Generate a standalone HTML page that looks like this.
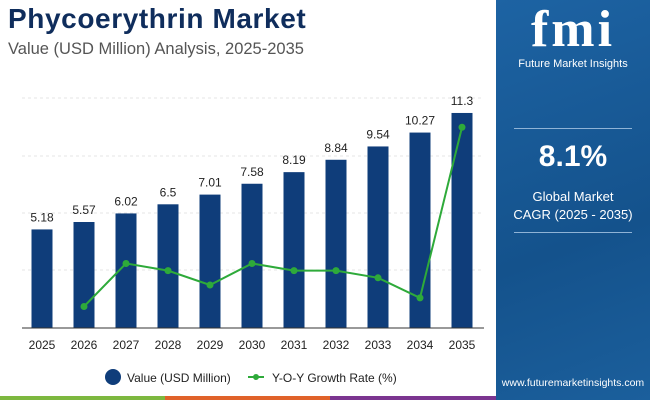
<!DOCTYPE html>
<html><head><meta charset="utf-8"><style>
body{margin:0;width:650px;height:400px;overflow:hidden;background:#fff;font-family:"Liberation Sans",sans-serif;position:relative}
.t{position:absolute}
</style></head><body>
<div class="t" style="left:8px;top:3px;font-size:28px;font-weight:bold;color:#0f2d5c;letter-spacing:0.6px">Phycoerythrin Market</div>
<div class="t" style="left:8px;top:40px;font-size:16.5px;color:#555">Value (USD Million) Analysis, 2025-2035</div>
<div class="t" style="left:496px;top:0;width:154px;height:400px;background:linear-gradient(160deg,#1d63a3,#14528c 60%,#1b5f9c)">
  <div style="position:absolute;left:0;top:0px;width:154px;text-align:center;color:#fff;font-size:52px;font-weight:bold;font-family:'Liberation Serif',serif;letter-spacing:3px">fmi</div>
  <div style="position:absolute;left:0;top:58px;width:154px;text-align:center;color:#fff;font-size:11px">Future Market Insights</div>
  <div style="position:absolute;left:18px;top:128px;width:118px;border-top:1px solid #8fb3d6"></div>
  <div style="position:absolute;left:0;top:140px;width:154px;text-align:center;color:#fff;font-size:30px;font-weight:bold">8.1%</div>
  <div style="position:absolute;left:0;top:188px;width:154px;text-align:center;color:#fff;font-size:13px;line-height:18px">Global Market<br>CAGR (2025 - 2035)</div>
  <div style="position:absolute;left:18px;top:232px;width:118px;border-top:1px solid #8fb3d6"></div>
  <div style="position:absolute;left:0;top:377px;width:154px;text-align:center;color:#fff;font-size:10.5px">www.futuremarketinsights.com</div>
</div>
<div class="t" style="left:0;top:396px;width:165px;height:4px;background:#7db83f"></div>
<div class="t" style="left:165px;top:396px;width:165px;height:4px;background:#e0622a"></div>
<div class="t" style="left:330px;top:396px;width:166px;height:4px;background:#7b3590"></div>
<svg class="t" style="left:0;top:0" width="496" height="396">
<g id="grid"></g><g id="bars"></g><g id="line"></g><g id="labels"></g>
<line x1="22" x2="484" y1="328" y2="328" stroke="#333" stroke-width="1"/>
<g>
<circle cx="113" cy="377" r="8" fill="#0f3d7a"/>
<text x="127" y="382" font-size="12" fill="#222">Value (USD Million)</text>
<line x1="248" x2="264" y1="377" y2="377" stroke="#2eaa3a" stroke-width="2"/>
<circle cx="256" cy="377" r="3" fill="#2eaa3a"/>
<text x="272" y="382" font-size="12" fill="#222">Y-O-Y Growth Rate (%)</text>
</g>
</svg>
<script>
const years=["2025","2026","2027","2028","2029","2030","2031","2032","2033","2034","2035"];
const values=[5.18,5.57,6.02,6.5,7.01,7.58,8.19,8.84,9.54,10.27,11.3];
const growth=[null,7.5,8.1,8.0,7.8,8.1,8.0,8.0,7.9,7.62,10.0];
const NS="http://www.w3.org/2000/svg";
const x=i=>42+i*42;
const y=v=>328-v*19.03;
const yg=v=>328-(v-7.2)*71.7;
function mk(t,a,p){const e=document.createElementNS(NS,t);for(const k in a)e.setAttribute(k,a[k]);document.getElementById(p).appendChild(e);return e;}
[98,156,213,270].forEach(gy=>{const l=mk('line',{x1:22,x2:484,y1:gy,y2:gy,stroke:'#e6e6e6','stroke-dasharray':'3,3'},'grid');

});
values.forEach((v,i)=>{
const r=mk('rect',{x:x(i)-10.5,y:y(v),width:21,height:328-y(v),fill:'#0f3d7a'},'bars');


const t=mk('text',{x:x(i),y:y(v)-8,'font-size':12,'text-anchor':'middle',fill:'#222'},'labels');t.textContent=v;


const xt=mk('text',{x:x(i),y:349,'font-size':12,'text-anchor':'middle',fill:'#222'},'labels');xt.textContent=years[i];


});
let pts=[];growth.forEach((g,i)=>{if(g!==null)pts.push(x(i)+','+yg(g));});
const pl=mk('polyline',{points:pts.join(' '),fill:'none',stroke:'#2eaa3a','stroke-width':2},'line');


growth.forEach((g,i)=>{if(g===null)return;const c=mk('circle',{cx:x(i),cy:yg(g),r:3.5,fill:'#2eaa3a'},'line');

});
</script>
</body></html>
